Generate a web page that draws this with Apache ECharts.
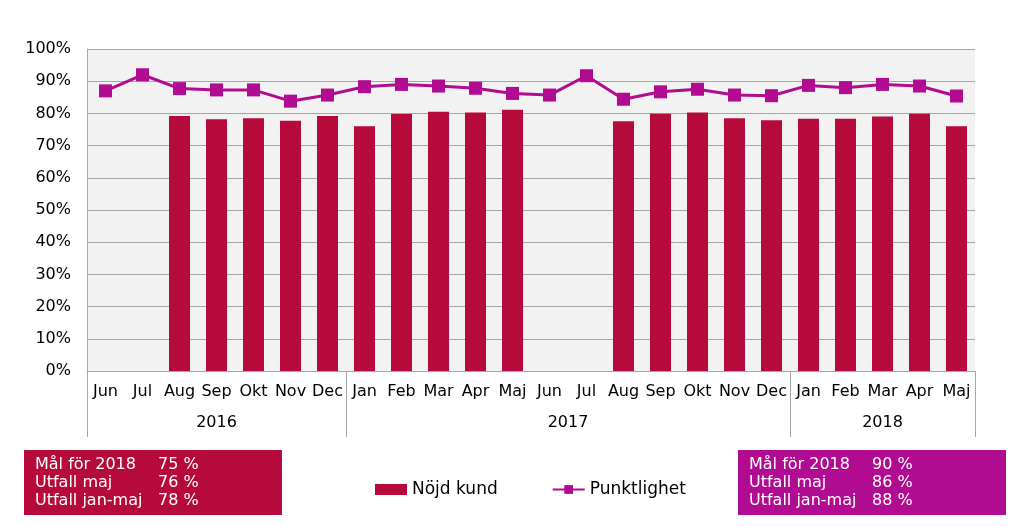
<!DOCTYPE html>
<html><head><meta charset="utf-8">
<script src="https://cdn.jsdelivr.net/npm/echarts@6/dist/echarts.min.js"></script>
<style>html,body{margin:0;padding:0;background:#fff}#c{width:1024px;height:526px}</style>
</head><body><div id="c"></div>
<script>
const months = ['Jun','Jul','Aug','Sep','Okt','Nov','Dec','Jan','Feb','Mar','Apr','Maj','Jun','Jul','Aug','Sep','Okt','Nov','Dec','Jan','Feb','Mar','Apr','Maj'];
const years = ['2016','2017','2018'];
const yearStartIdx = [0, 7, 19];
const nojdKund = [null,null,79.2,78.2,78.5,77.7,79.2,76.0,79.8,80.5,80.3,81.1,null,null,77.6,79.9,80.3,78.5,77.9,78.3,78.3,79.0,79.9,76.0];
const punktlighet = [87.0,92.0,87.7,87.3,87.3,83.8,85.7,88.3,89.0,88.5,87.8,86.2,85.7,91.7,84.4,86.7,87.5,85.7,85.5,88.7,88.0,89.0,88.5,85.4];
const boxLabels = ['Mål för 2018','Utfall maj','Utfall jan-maj'];
const boxKund = ['75 %','76 %','78 %'];
const boxPunkt = ['90 %','86 %','88 %'];

const FONT = 'DejaVu Sans';
const BAR = '#B70A3C';
const LINE = '#B10C91';
const GRAY = '#A6A6A6';

// year label positions (middle of each group)
const yearLabel = {};
yearStartIdx.forEach((s, k) => {
  const e = k + 1 < yearStartIdx.length ? yearStartIdx[k + 1] : months.length;
  const mid = s + (e - 1 - s) / 2;
  const idx = Math.floor(mid);
  yearLabel[idx] = { text: years[k], half: mid !== idx };
});

function boxText(vals) {
  return boxLabels.map((l, i) => '{a|' + l + '}{b|' + vals[i] + '}').join('\n');
}
function boxTitle(left, vals, color, bw) {
  return {
    left: left, top: 449,
    text: boxText(vals),
    backgroundColor: color,
    padding: [7, 11, 6, 11],
    textStyle: {
      fontWeight: 'normal',
      rich: {
        a: { color: '#fff', fontFamily: FONT, fontSize: 16, fontWeight: 'normal', lineHeight: 18, width: 123 },
        b: { color: '#fff', fontFamily: FONT, fontSize: 16, fontWeight: 'normal', lineHeight: 18, width: bw }
      }
    }
  };
}

const chart = echarts.init(document.getElementById('c'));
chart.setOption({
  animation: false,
  title: [boxTitle(24, boxKund, BAR, 113), boxTitle(738, boxPunkt, LINE, 123)],
  legend: {
    top: 476, left: 370, itemGap: 54,
    itemWidth: 32, itemHeight: 11,
    textStyle: { fontFamily: FONT, fontSize: 17, color: '#000' },
    data: [
      { name: 'Nöjd kund', icon: 'rect' },
      { name: 'Punktlighet' }
    ]
  },
  grid: {
    left: 87, right: 49, top: 49, bottom: 155,
    show: true, backgroundColor: '#F2F2F2', borderWidth: 0
  },
  xAxis: [
    {
      type: 'category', data: months, position: 'bottom',
      axisLine: { show: true, lineStyle: { color: GRAY, width: 1 } },
      axisTick: { show: false },
      axisLabel: { interval: 0, margin: 13, color: '#000', fontFamily: FONT, fontSize: 16 }
    },
    {
      type: 'category', data: months, position: 'bottom',
      axisLine: { show: false },
      axisTick: {
        show: true, length: 66, inside: false,
        interval: function (i) { return yearStartIdx.indexOf(i) >= 0; },
        lineStyle: { color: GRAY, width: 1 }
      },
      axisLabel: {
        interval: function (i) { return yearLabel[i] !== undefined; },
        margin: 44, color: '#000', fontFamily: FONT, fontSize: 16,
        formatter: function (v, i) {
          const y = yearLabel[i];
          if (!y) return '';
          return y.half ? '{s|' + y.text + '}' : y.text;
        },
        rich: { s: { padding: [0, 0, 0, 37], fontFamily: FONT, fontSize: 16, color: '#000' } }
      }
    }
  ],
  yAxis: {
    type: 'value', min: 0, max: 100, interval: 10,
    axisLine: { show: true, lineStyle: { color: GRAY } },
    axisTick: { show: false },
    splitLine: { lineStyle: { color: GRAY, width: 1 } },
    axisLabel: { formatter: '{value}%', margin: 16, color: '#000', fontFamily: FONT, fontSize: 16 }
  },
  series: [
    {
      name: 'Nöjd kund', type: 'bar', data: nojdKund,
      barWidth: 21, itemStyle: { color: BAR }
    },
    {
      name: 'Punktlighet', type: 'line', data: punktlighet,
      symbol: 'rect', symbolSize: 13,
      lineStyle: { color: LINE, width: 3 },
      itemStyle: { color: LINE }
    }
  ]
});
</script></body></html>
